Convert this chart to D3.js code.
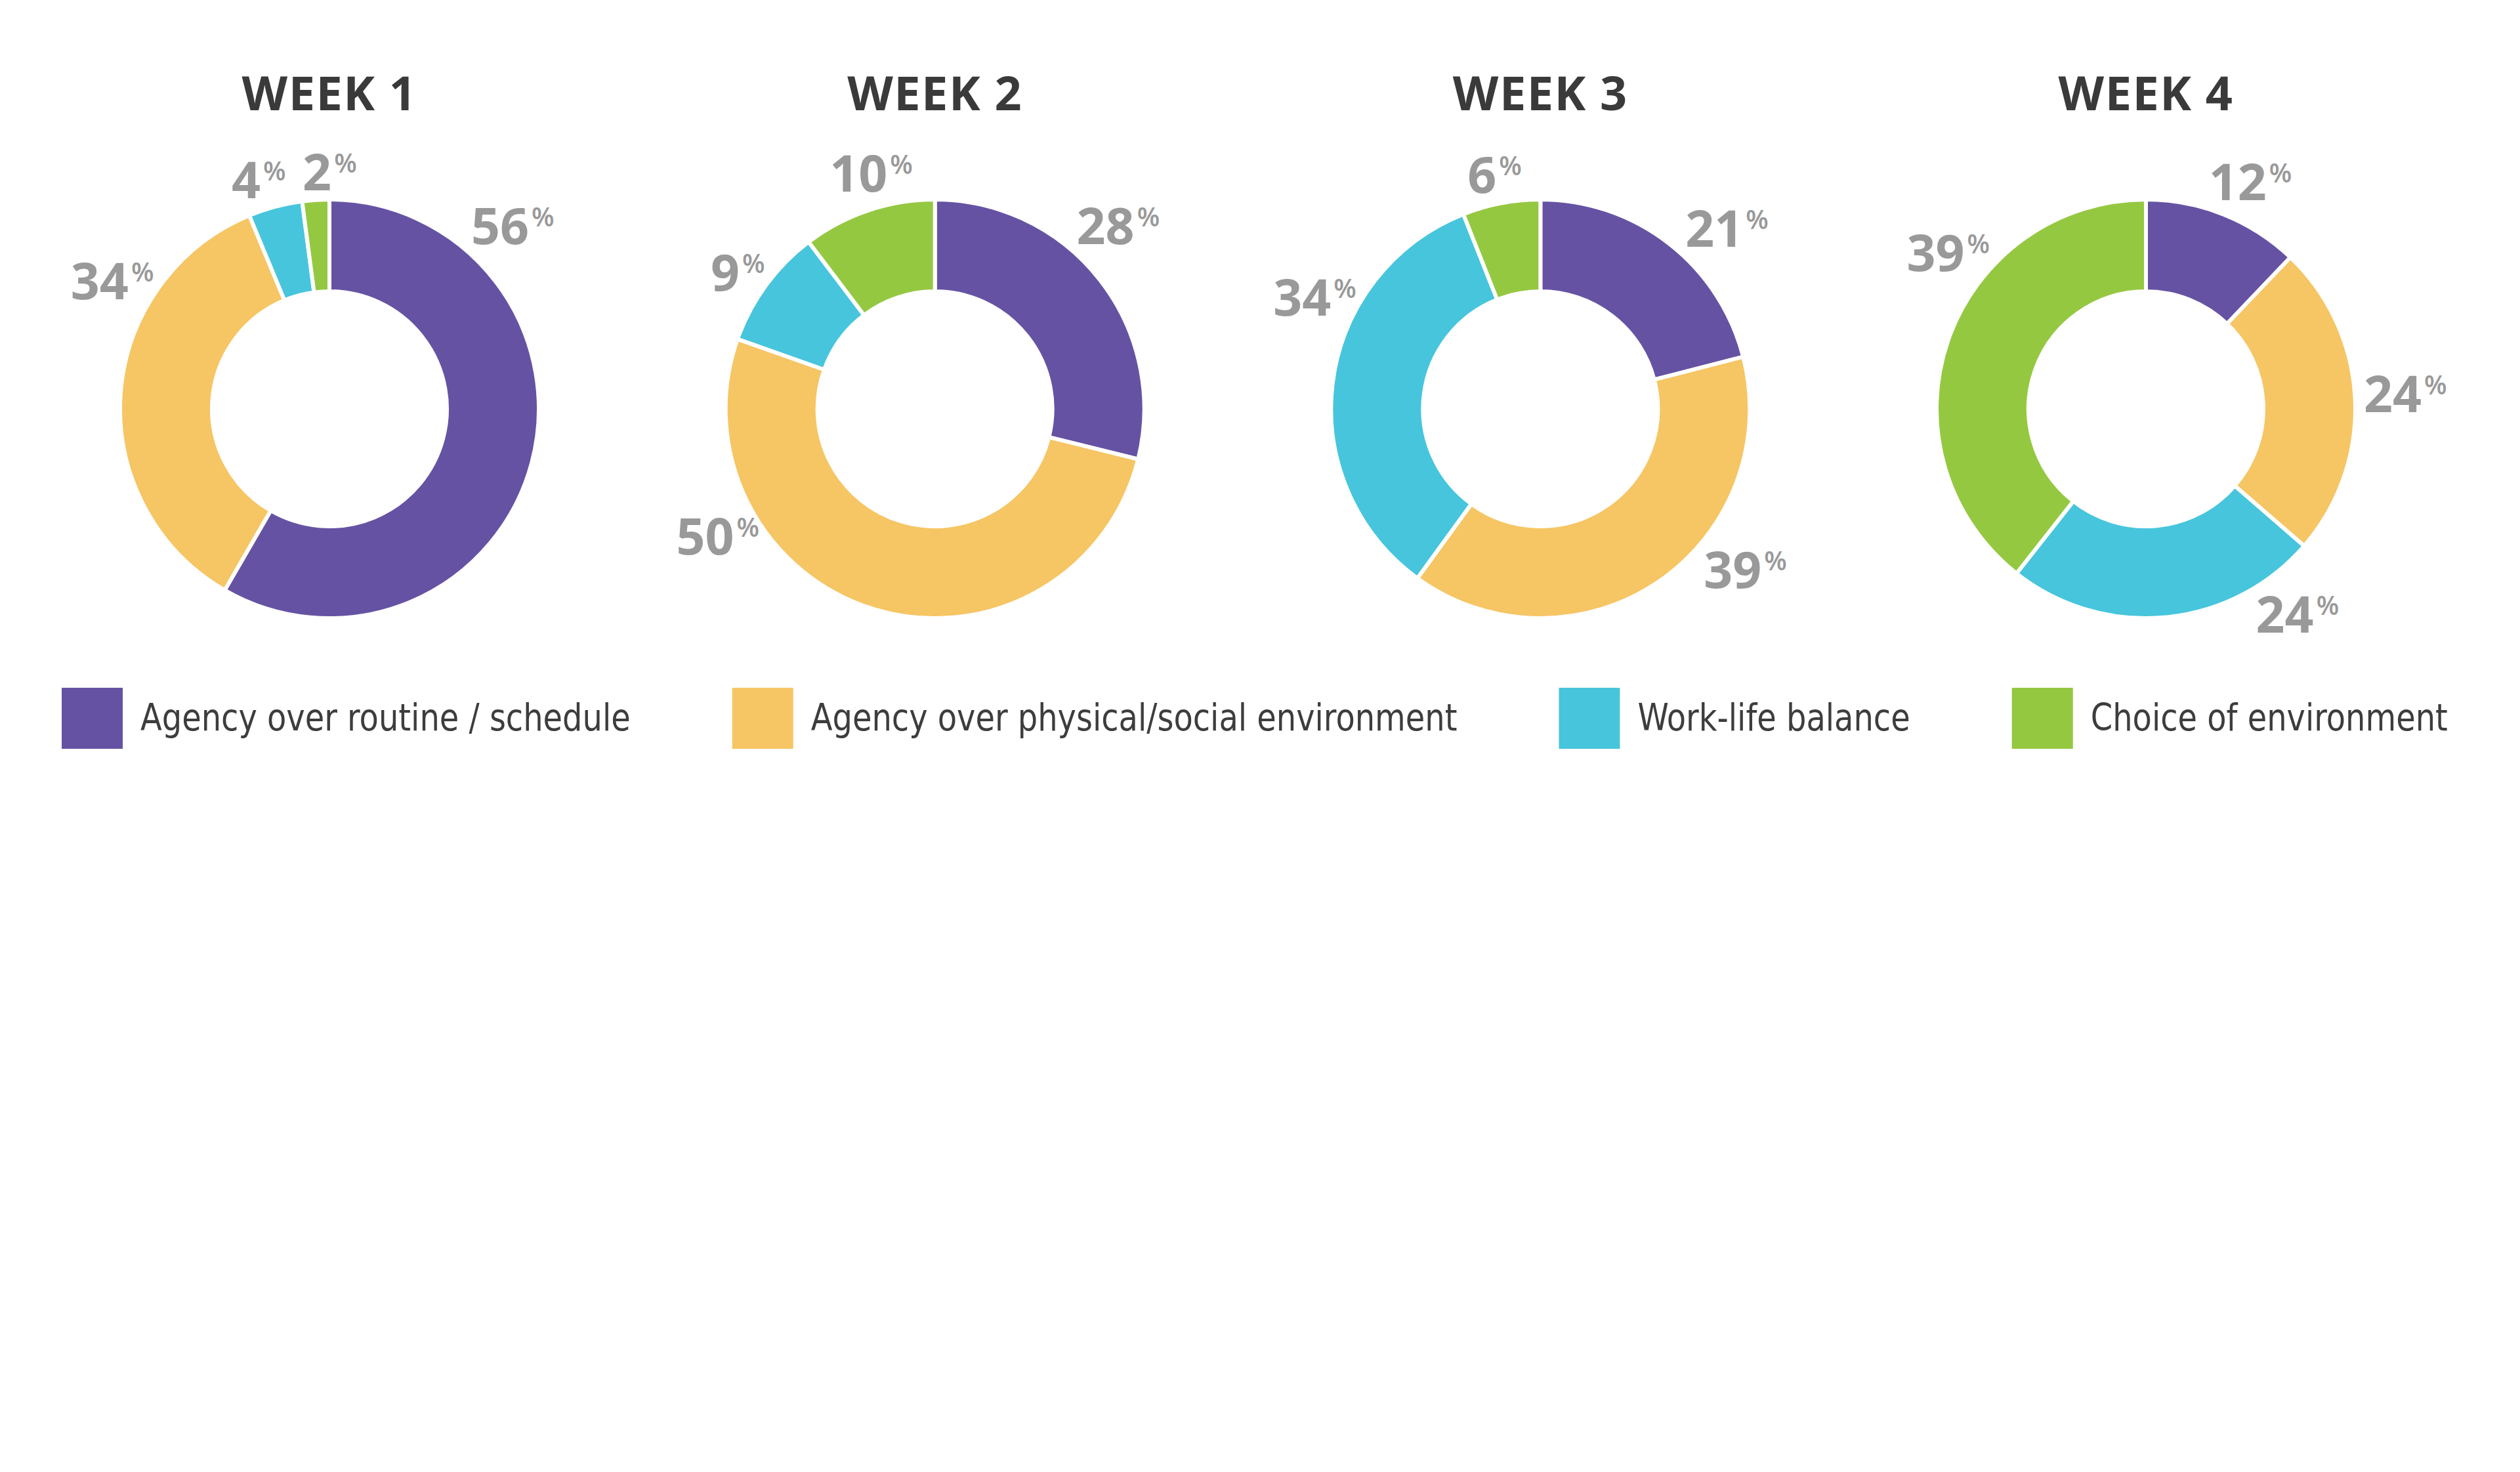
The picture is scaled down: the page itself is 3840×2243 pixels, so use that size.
<!DOCTYPE html>
<html>
<head>
<meta charset="utf-8">
<script src="https://cdn.jsdelivr.net/npm/d3@7"></script>
<style>
  body { margin: 0; background: #fff; }
  svg { display: block; }
</style>
</head>
<body>
<div id="chart"></div>
<script>
// chart data
const weeks = ["WEEK 1", "WEEK 2", "WEEK 3", "WEEK 4"];
const categories = [
    "Agency over routine / schedule",
    "Agency over physical/social environment",
    "Work-life balance",
    "Choice of environment"
];
const week1 = [56, 34, 4, 2];
const week2 = [28, 50, 9, 10];
const week3 = [21, 39, 34, 6];
const week4 = [12, 24, 24, 39];
const weekValues = [week1, week2, week3, week4];

const colors = ["#6652a3", "#f6c564", "#47c5dc", "#95c841"];

// label directions were placed by hand in the original, degrees clockwise from 12 o'clock
const labelAngles = [
    [43, 299, 340, 357],
    [43, 241, 303, 342],
    [44, 130, 295, 346],
    [22, 86.5, 146, 306.5]
];

const width = 3840, height = 2243;
const outerR = 319, innerR = 179;   // stroke eats 3px each side
const cy = 623;

const svg = d3.select("#chart")
    .append("svg")
    .attr("width", width)
    .attr("height", height);

svg.append("rect").attr("width", width).attr("height", height).attr("fill", "#fff");

const x = d3.scalePoint()
    .domain(weeks)
    .range([502, 3270]);

const pie = d3.pie().sort(null).value(d => d);
const arc = d3.arc().innerRadius(innerR).outerRadius(outerR);

const labelSize = 77, capH = 55;
const pctSize = 40;

weeks.forEach((wk, i) => {
    const cx = x(wk);

    // title
    svg.append("text")
        .attr("x", cx)
        .attr("y", 168)
        .attr("text-anchor", "middle")
        .attr("font-family", "'Open Sans', sans-serif")
        .attr("font-weight", 700)
        .attr("font-size", 72)
        .attr("letter-spacing", 1.5)
        .attr("fill", "#3a3a3a")
        .text(wk);

    const g = svg.append("g")
        .attr("transform", `translate(${cx},${cy})`);

    const slices = pie(weekValues[i]);

    g.selectAll("path")
        .data(slices)
        .join("path")
        .attr("d", arc)
        .attr("fill", (d, j) => colors[j])
        .attr("stroke", "#fff")
        .attr("stroke-width", 6);

    // percent labels
    slices.forEach((d, j) => {
        const a = labelAngles[i][j] * Math.PI / 180;
        const s = Math.sin(a), c = Math.cos(a);

        const num = g.append("text")
            .attr("text-anchor", "middle")
            .attr("font-family", "'Open Sans', sans-serif")
            .attr("font-weight", 700)
            .attr("font-size", labelSize)
            .attr("fill", "#999999")
            .text(d.data);

        const w = num.node().getComputedTextLength();
        const ext = Math.abs(s) * w / 2 + Math.abs(c) * capH / 2;
        const pad = 15 + 20 * Math.max(0, -s);
        const dist = outerR - 3 + pad + ext;
        const px = dist * s, py = -dist * c;

        num.attr("x", px).attr("y", py + capH / 2);

        g.append("text")
            .attr("x", px + w / 2 + 4)
            .attr("y", py - capH / 2 + 28)
            .attr("font-family", "'Open Sans', sans-serif")
            .attr("font-weight", 600)
            .attr("font-size", pctSize)
            .attr("fill", "#999999")
            .text("%");
    });
});

// legend, text squeezed a little to match the narrow face of the original
const squeeze = 0.935;
const legend = svg.append("g");
let lx = 94;
categories.forEach((name, j) => {
    legend.append("rect")
        .attr("x", lx)
        .attr("y", 1048)
        .attr("width", 93)
        .attr("height", 93)
        .attr("fill", colors[j]);

    const t = legend.append("text")
        .attr("transform", `translate(${lx + 120},1113) scale(${squeeze},1)`)
        .attr("font-family", "'Liberation Sans Narrow', 'DejaVu Sans Condensed', 'Roboto', sans-serif")
        .attr("font-size", 57)
        .attr("fill", "#3d3d3d")
        .text(name);

    lx += 120 + t.node().getComputedTextLength() * squeeze + 155;
});
</script>
</body>
</html>
